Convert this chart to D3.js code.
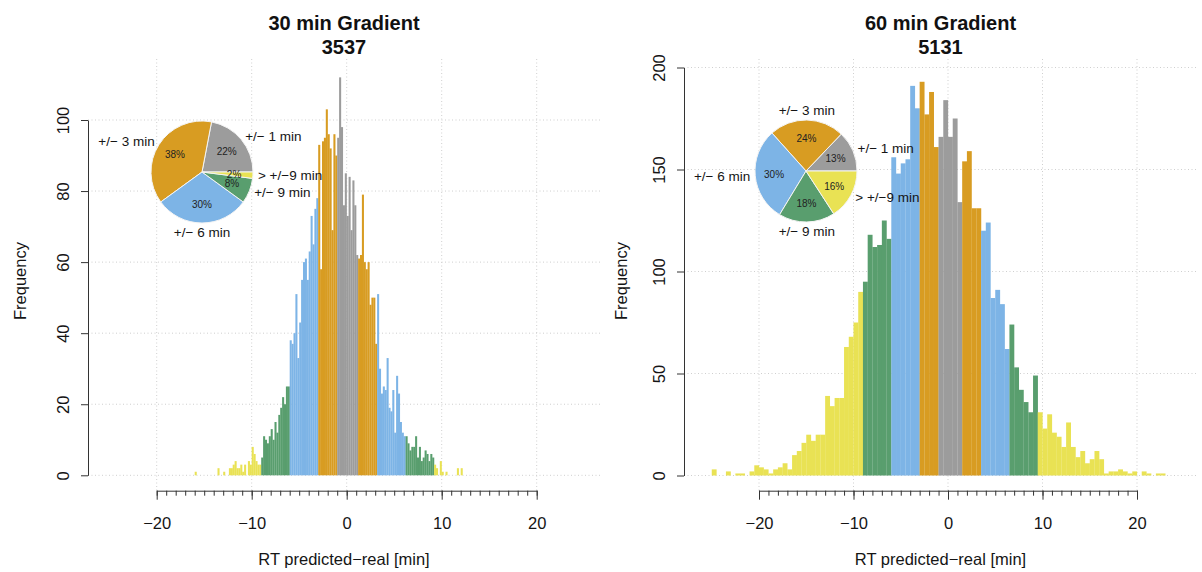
<!DOCTYPE html>
<html>
<head>
<meta charset="utf-8">
<script src="https://cdn.jsdelivr.net/npm/d3@7"></script>
<style>
  body { margin: 0; background: #fff; }
  svg { display: block; font-family: "Liberation Sans", Arial, Helvetica, sans-serif; }
</style>
</head>
<body>
<svg id="chart" width="1202" height="572"></svg>
<script>
// ---- data -------------------------------------------------------------
// 30 min gradient: histogram of RT deviations, 0.2 min bins, first bin starts at -16.2
const binStart30 = -16.2;
const binWidth30 = 0.2;
const counts30 = [
  0, 1, 0, 0, 0, 0, 0, 0, 0, 0, 0, 0, 0, 2, 0, 0, 1, 0, 0, 2,
  2, 3, 4, 2, 2, 3, 1, 3, 0, 4, 3, 8, 6, 4, 3, 3,
  5, 11, 10, 9, 11, 13, 10, 15, 12, 17, 19, 22, 20, 25, 25,
  38, 37, 40, 51, 33, 43, 55, 60, 61, 55, 63, 73, 65, 75, 78,
  93, 58, 94, 95, 103, 96, 92, 69, 96, 90,
  95, 112, 98, 76, 85, 73, 84, 69, 83, 76, 62,
  61, 62, 79, 60, 58, 60, 48, 50, 50, 37,
  51, 30, 23, 25, 24, 33, 19, 18, 24, 12, 28, 23, 15, 12, 11,
  11, 9, 7, 8, 8, 11, 5, 8, 4, 5, 7, 6, 4, 6, 5,
  3, 2, 0, 4, 1, 0, 1, 0, 0, 0, 0, 0, 2, 0, 2
];

// 60 min gradient: 0.5 min bins, first bin starts at -25
const binStart60 = -25;
const binWidth60 = 0.5;
const counts60 = [
  3, 0, 0, 2, 0, 1, 1, 0, 2, 5, 4, 3, 1, 3, 4, 6, 3, 10, 12, 16,
  20, 17, 20, 20, 39, 34, 38, 38, 63, 68, 75, 90,
  95, 118, 112, 113, 125, 116,
  156, 148, 153, 155, 191, 180,
  193, 177, 188, 161,
  166, 184, 166, 175, 134,
  154, 159, 131, 131,
  120, 124, 87, 91, 84, 62,
  74, 53, 42, 36, 31, 49,
  31, 23, 30, 21, 19, 14, 26, 14, 9, 12, 6, 8, 12, 8, 1, 2, 2, 3, 2, 1,
  2, 0, 2, 1, 0, 1, 1
];

// accuracy classes (pie order) and share of each class in percent
const classNames = ["+/\u2212 1 min", "+/\u2212 3 min", "+/\u2212 6 min", "+/\u2212 9 min", "> +/\u22129 min"];
const classLimits = [1, 3, 6, 9];
const classColors = ["#9c9c9c", "#d89c22", "#7db4e6", "#599e6e", "#e9e254"];
const share30 = [22, 38, 30, 8, 2];
const share60 = [13, 24, 30, 18, 16];

const xTicks = [-20, -10, 0, 10, 20];
const xMinorTicks = d3.range(-20, 21, 1);
const yTicks30 = [0, 20, 40, 60, 80, 100];
const yTicks60 = [0, 50, 100, 150, 200];

const titles = ["30 min Gradient", "60 min Gradient"];
const totals = ["3537", "5131"];
const xLabel = "RT predicted\u2212real [min]";
const yLabel = "Frequency";

// ---- layout -----------------------------------------------------------
const panels = [
  {
    title: titles[0], total: totals[0],
    start: binStart30, width: binWidth30, counts: counts30, share: share30, yTicks: yTicks30,
    plot: { left: 88, right: 600, top: 59, bottom: 491 },
    xRange: [156.7, 536.7], yDomain: [0, 100], yRange: [475.3, 120],
    pie: { cx: 202, cy: 172, r: 51 }, ylabX: 20
  },
  {
    title: titles[1], total: totals[1],
    start: binStart60, width: binWidth60, counts: counts60, share: share60, yTicks: yTicks60,
    plot: { left: 684, right: 1197, top: 59, bottom: 491 },
    xRange: [759, 1137], yDomain: [0, 200], yRange: [475.5, 67.5],
    pie: { cx: 806, cy: 171, r: 51 }, ylabX: 621
  }
];

const svg = d3.select("#chart");
const minus = s => String(s).replace("-", "\u2212");
const textColor = "#151515";

// class of a bar from its left break (R-style colour vector over breaks)
function classOf(left) {
  const t = Math.abs(Math.round(left * 10));
  for (let k = 0; k < classLimits.length; k++) {
    if (t <= classLimits[k] * 10) return k;
  }
  return classLimits.length;
}

panels.forEach(p => {
  const g = svg.append("g");
  const x = d3.scaleLinear().domain([-20, 20]).range(p.xRange);
  const y = d3.scaleLinear().domain(p.yDomain).range(p.yRange);

  // dotted grid
  const grid = g.append("g")
    .attr("stroke", "#cfcfcf").attr("stroke-width", 1).attr("stroke-dasharray", "1,2.5");
  grid.selectAll("line.h").data(p.yTicks).join("line").attr("class", "h")
    .attr("x1", p.plot.left).attr("x2", p.plot.right)
    .attr("y1", d => y(d)).attr("y2", d => y(d));
  grid.selectAll("line.v").data(xTicks).join("line").attr("class", "v")
    .attr("x1", d => x(d)).attr("x2", d => x(d))
    .attr("y1", p.plot.top).attr("y2", p.plot.bottom);

  // histogram bars
  const bins = p.counts.map((c, i) => {
    const left = Math.round((p.start + i * p.width) * 10) / 10;
    return { left, right: left + p.width, count: c, cls: classOf(left) };
  }).filter(b => b.count > 0);

  g.append("g").selectAll("rect").data(bins).join("rect")
    .attr("x", d => x(d.left))
    .attr("width", d => x(d.right) - x(d.left) + 0.15)
    .attr("y", d => y(d.count))
    .attr("height", d => y(0) - y(d.count))
    .attr("fill", d => classColors[d.cls]);

  // x axis: major and minor ticks
  const xAxisY = p.plot.bottom - 0.3;
  const xMinor = g.append("g").attr("transform", `translate(0,${xAxisY})`)
    .call(d3.axisBottom(x).tickValues(xMinorTicks).tickSize(5).tickSizeOuter(0).tickFormat(""));
  const xMajor = g.append("g").attr("transform", `translate(0,${xAxisY})`)
    .call(d3.axisBottom(x).tickValues(xTicks).tickSize(9).tickSizeOuter(0).tickFormat(minus));
  [xMinor, xMajor].forEach(a => a.selectAll("path, line").attr("stroke", "#333"));
  xMajor.select(".domain").remove();
  xMajor.selectAll("text")
    .attr("y", 33).attr("dy", "0.35em")
    .attr("font-size", 16.5).attr("fill", textColor)
    .attr("font-family", "Liberation Sans, Arial, sans-serif");

  // y axis with labels parallel to the axis
  const yAxis = g.append("g").attr("transform", `translate(${p.plot.left},0)`)
    .call(d3.axisLeft(y).tickValues(p.yTicks).tickSize(7).tickSizeOuter(0));
  yAxis.selectAll("path, line").attr("stroke", "#333");
  yAxis.selectAll("text")
    .attr("x", null).attr("dy", null)
    .attr("transform", "translate(-25,0) rotate(-90)")
    .attr("text-anchor", "middle").attr("dominant-baseline", "central")
    .attr("font-size", 16.5).attr("fill", textColor)
    .attr("font-family", "Liberation Sans, Arial, sans-serif");

  // axis titles
  const midX = (p.plot.left + p.plot.right) / 2;
  g.append("text").attr("x", midX).attr("y", 559)
    .attr("text-anchor", "middle").attr("dominant-baseline", "central")
    .attr("font-size", 16.5).attr("fill", textColor).text(xLabel);
  g.append("text")
    .attr("transform", `translate(${p.ylabX},${(p.plot.top + p.plot.bottom) / 2 + 6}) rotate(-90)`)
    .attr("text-anchor", "middle").attr("dominant-baseline", "central")
    .attr("font-size", 16.5).attr("fill", textColor).text(yLabel);

  // two-line bold title
  g.append("text").attr("x", midX).attr("y", 30)
    .attr("text-anchor", "middle").attr("font-size", 20).attr("font-weight", "bold")
    .attr("fill", "#111").text(p.title);
  g.append("text").attr("x", midX).attr("y", 54)
    .attr("text-anchor", "middle").attr("font-size", 20).attr("font-weight", "bold")
    .attr("fill", "#111").text(p.total);

  // inset pie: counter-clockwise from 3 o'clock
  const pie = d3.pie().sort(null).value(d => d)
    .startAngle(Math.PI / 2).endAngle(Math.PI / 2 - 2 * Math.PI);
  const arcs = pie(p.share);
  const arc = d3.arc().innerRadius(0).outerRadius(p.pie.r);
  const pg = g.append("g").attr("transform", `translate(${p.pie.cx},${p.pie.cy})`);
  pg.selectAll("path").data(arcs).join("path")
    .attr("d", arc)
    .attr("fill", (d, i) => classColors[i])
    .attr("stroke", "#f4f4f4").attr("stroke-width", 1);

  const mid = d => (d.startAngle + d.endAngle) / 2;
  // percentages inside
  pg.selectAll("text.pct").data(arcs).join("text").attr("class", "pct")
    .attr("x", d => Math.sin(mid(d)) * p.pie.r * 0.63)
    .attr("y", d => -Math.cos(mid(d)) * p.pie.r * 0.63)
    .attr("text-anchor", "middle").attr("dominant-baseline", "central")
    .attr("font-size", 10).attr("fill", "#222")
    .text(d => d.data + "%");
  // class names outside
  pg.selectAll("text.lab").data(arcs).join("text").attr("class", "lab")
    .attr("x", d => Math.sin(mid(d)) * p.pie.r * 1.1)
    .attr("y", d => -Math.cos(mid(d)) * p.pie.r * 1.1 + (Math.abs(Math.sin(mid(d))) < 0.15 ? -Math.sign(Math.cos(mid(d))) * 4 : 0))
    .attr("text-anchor", d => {
      const s = Math.sin(mid(d));
      return Math.abs(s) < 0.15 ? "middle" : (s < 0 ? "end" : "start");
    })
    .attr("dominant-baseline", "central")
    .attr("font-size", 13.5).attr("fill", textColor)
    .text((d, i) => classNames[i]);
});
</script>
</body>
</html>
